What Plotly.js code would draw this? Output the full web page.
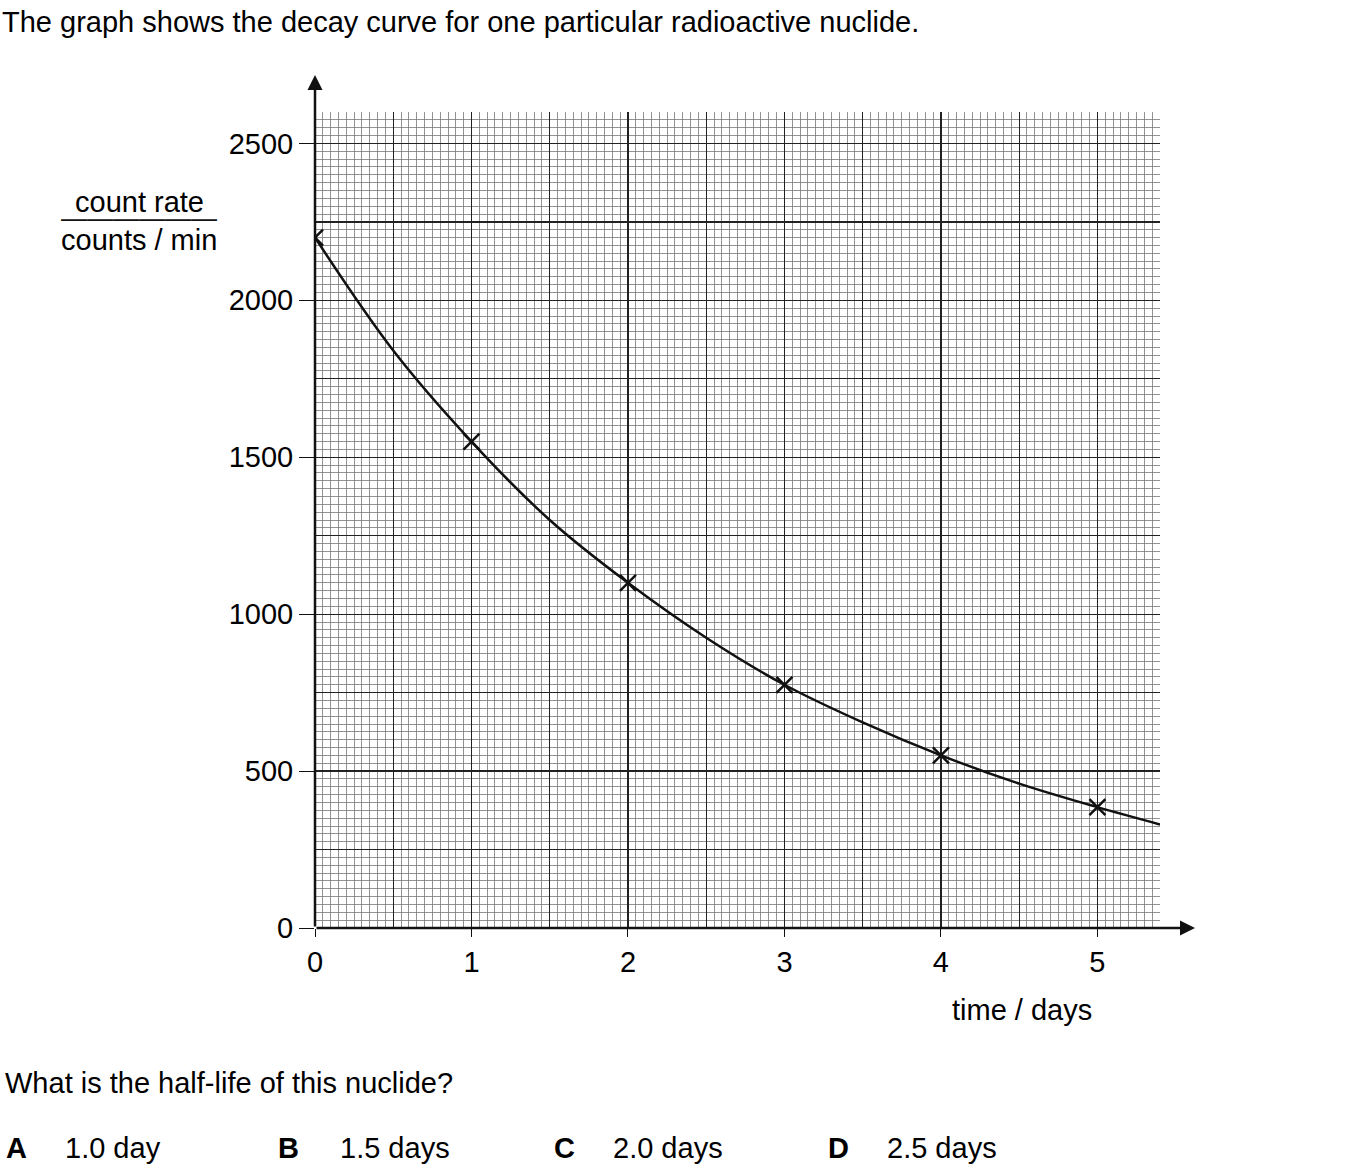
<!DOCTYPE html>
<html>
<head>
<script src="https://cdn.plot.ly/plotly-3.0.1.min.js"></script>
<style>body{margin:0;background:#fff}</style>
</head>
<body>
<div id="chart" style="width:1352px;height:1175px"></div>
<script>
// measured points (crosses)
const days = [0, 1, 2, 3, 4, 5];
const counts = [2200, 1550, 1100, 775, 550, 385];
// smooth curve
const curveX = [0, 0.5, 1, 1.5, 2, 2.5, 3, 3.5, 4, 4.5, 5, 5.4];
const curveY = [2200, 1840, 1550, 1300, 1100, 925, 775, 655, 550, 460, 385, 330];
const xLabels = [0, 1, 2, 3, 4, 5];
const yLabels = [0, 500, 1000, 1500, 2000, 2500];

// plot area in pixels
const L = 315, R = 1160, T = 112, B = 928;
const px = v => (v - L) / (R - L);
const py = v => (B - v) / (B - T);
const font = {family: 'Liberation Sans, Arial, sans-serif', size: 29, color: '#000'};

const txt = (x, y, text, extra) => Object.assign({
    xref: 'paper', yref: 'paper', x: px(x), y: py(y), text,
    showarrow: false, xanchor: 'left', yanchor: 'middle', font
}, extra || {});

const data = [
    {x: [0], y: [0], xaxis: 'x2', yaxis: 'y2', mode: 'markers', marker: {opacity: 0}, hoverinfo: 'skip'},
    {x: curveX, y: curveY, mode: 'lines', line: {shape: 'spline', color: '#111', width: 2.5}, hoverinfo: 'skip'},
    {x: days, y: counts, mode: 'markers', marker: {symbol: 'x-thin', size: 16, line: {width: 2.5, color: '#111'}}}
];

const layout = {
    width: 1352, height: 1175,
    margin: {l: L, r: 1352 - R, t: T, b: 1175 - B},
    showlegend: false,
    paper_bgcolor: '#fff', plot_bgcolor: '#fff',
    font,
    xaxis: {
        range: [0, 5.4], tickvals: xLabels, ticks: 'outside', ticklen: 8, tickcolor: '#111',
        showgrid: true, gridcolor: '#222', gridwidth: 1.3, zeroline: false, tickfont: font,
        minor: {dtick: 0.05, tick0: 0, showgrid: true, gridcolor: '#777', gridwidth: 0.8, ticks: ''},
        showline: false, layer: 'below traces'
    },
    yaxis: {
        range: [0, 2600], tickvals: yLabels, ticks: 'outside', ticklen: 15, tickcolor: '#111',
        showgrid: true, gridcolor: '#222', gridwidth: 1.3, zeroline: false, tickfont: font,
        minor: {dtick: 25, tick0: 0, showgrid: true, gridcolor: '#777', gridwidth: 0.8, ticks: ''},
        showline: false
    },
    xaxis2: {
        overlaying: 'x', range: [0, 5.4], dtick: 0.5, tick0: 0, showticklabels: false, ticks: '',
        showgrid: true, gridcolor: '#222', gridwidth: 1.3, zeroline: false, showline: false, anchor: 'y2'
    },
    yaxis2: {
        overlaying: 'y', range: [0, 2600], dtick: 250, tick0: 0, showticklabels: false, ticks: '',
        showgrid: true, gridcolor: '#222', gridwidth: 1.3, zeroline: false, showline: false, anchor: 'x2'
    },
    annotations: [
        // axis arrows
        {xref: 'paper', yref: 'paper', x: px(L), y: py(75), showarrow: true, arrowhead: 2, arrowsize: 1.2,
         arrowwidth: 2.5, arrowcolor: '#111', text: '', ax: 0, ay: B - 75},
        {xref: 'paper', yref: 'paper', x: px(1195), y: py(B), showarrow: true, arrowhead: 2, arrowsize: 1.2,
         arrowwidth: 2.5, arrowcolor: '#111', text: '', ax: -(1195 - L), ay: 0},
        txt(0, 22, 'The graph shows the decay curve for one particular radioactive nuclide.'),
        txt(139, 202, 'count rate', {xanchor: 'center'}),
        txt(139, 240, 'counts / min', {xanchor: 'center'}),
        txt(1022, 1010, 'time / days', {xanchor: 'center'}),
        txt(3, 1083, 'What is the half-life of this nuclide?'),
        txt(4, 1148, '<b>A</b>'), txt(63, 1148, '1.0 day'),
        txt(276, 1148, '<b>B</b>'), txt(338, 1148, '1.5 days'),
        txt(552, 1148, '<b>C</b>'), txt(611, 1148, '2.0 days'),
        txt(826, 1148, '<b>D</b>'), txt(885, 1148, '2.5 days'),
        // fraction bar of the y label
        txt(139, 218, '<span style="letter-spacing:0">&#8212;&#8212;&#8212;&#8212;&#8212;&#8212;</span>',
            {xanchor: 'center', font: {family: 'Liberation Sans, Arial, sans-serif', size: 26, color: '#111'}})
    ]
};

Plotly.newPlot('chart', data, layout, {staticPlot: true});
</script>
</body>
</html>
